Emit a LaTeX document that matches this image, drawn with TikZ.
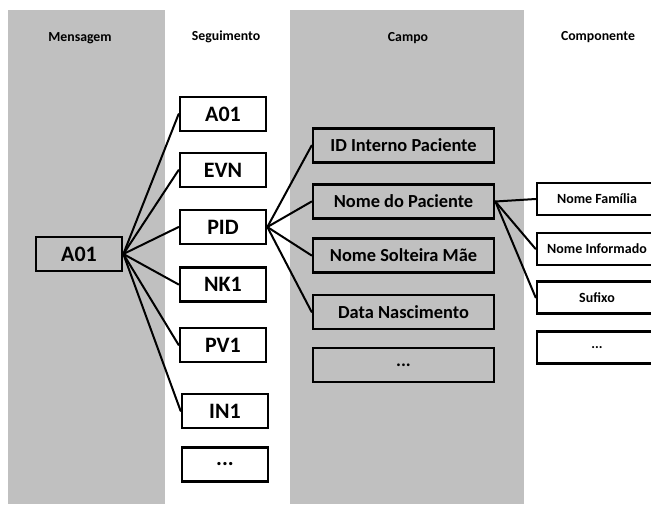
\documentclass[tikz,border=0pt]{standalone}
\usepackage{fontspec}
\setmainfont{Carlito}
\definecolor{panelgray}{RGB}{192,192,192}
\tikzset{
  hdr/.style={font=\fontsize{13.8}{15}\selectfont\bfseries, inner sep=0pt},
  segbox/.style={draw=black, line width=2.7pt, fill=white, minimum width=86pt, minimum height=34pt, inner sep=0pt, font=\fontsize{22}{24}\selectfont\bfseries},
  msgbox/.style={segbox, fill=panelgray},
  campobox/.style={draw=black, line width=2.7pt, fill=panelgray, minimum width=181pt, minimum height=34pt, inner sep=0pt, font=\fontsize{18.4}{20}\selectfont\bfseries},
  compbox/.style={draw=black, line width=2.7pt, fill=white, minimum width=120pt, minimum height=32pt, inner sep=0pt, font=\fontsize{14}{15}\selectfont\bfseries},
  link/.style={draw=black, line width=2pt, line cap=round}
}
\begin{document}
\begin{tikzpicture}[x=1pt, y=-1pt]
\useasboundingbox (0,0) rectangle (651,504);
\clip (0,0) rectangle (651,504);
% panels
\fill[panelgray] (8,10) rectangle (165,504);
\fill[panelgray] (290,10) rectangle (524,504);
% headers
\node[hdr] (hmsg) at (80,38) {Mensagem};
\node[hdr] (hseg) at (226,37) {Seguimento};
\node[hdr] (hcampo) at (408,38) {Campo};
\node[hdr] (hcomp) at (598,37) {Componente};
% nodes
\node[msgbox] (msg) at (79,254) {A01};
\node[segbox] (sA) at (223,114) {A01};
\node[segbox] (sEVN) at (223,170) {EVN};
\node[segbox] (sPID) at (223,227) {PID};
\node[segbox] (sNK) at (223,284.5) {NK1};
\node[segbox] (sPV) at (223,345) {PV1};
\node[segbox] (sIN) at (225,411) {IN1};
\node[segbox] (sDots) at (225,464.5) {...};
\node[campobox] (cID) at (403.5,145.5) {ID Interno Paciente};
\node[campobox] (cNome) at (403.5,201.5) {Nome do Paciente};
\node[campobox] (cMae) at (403.5,255.5) {Nome Solteira Mãe};
\node[campobox] (cData) at (403.5,312) {Data Nascimento};
\node[campobox] (cDots) at (403.5,365) {...};
\node[compbox] (kFam) at (597,199) {Nome Família};
\node[compbox] (kInf) at (597,249) {Nome Informado};
\node[compbox] (kSuf) at (597,297.5) {Sufixo};
\node[compbox] (kDots) at (597,347.5) {...};
% connectors
\foreach \t in {sA,sEVN,sPID,sNK,sPV,sIN}
  \draw[link] (msg.east) -- (\t.west);
\foreach \t in {cID,cNome,cMae,cData}
  \draw[link] (sPID.east) -- (\t.west);
\foreach \t in {kFam,kInf,kSuf}
  \draw[link] (cNome.east) -- (\t.west);
\end{tikzpicture}
\end{document}
